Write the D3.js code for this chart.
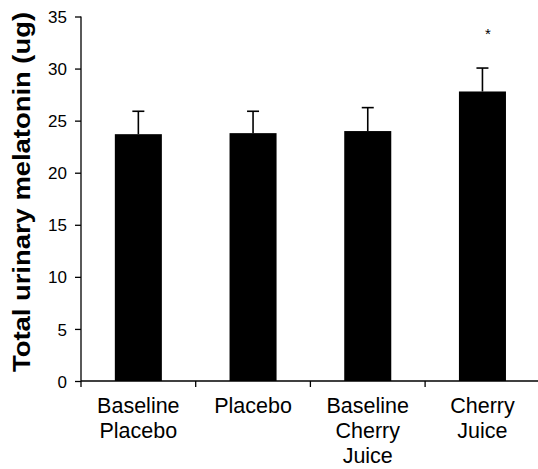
<!DOCTYPE html>
<html>
<head>
<meta charset="utf-8">
<script src="https://cdn.jsdelivr.net/npm/d3@7/dist/d3.min.js"></script>
<style>
  html, body { margin: 0; padding: 0; background: #fff; }
  svg { display: block; }
  text { font-family: "Liberation Sans", Arial, sans-serif; fill: #000; }
</style>
</head>
<body>
<div id="chart"></div>
<script>
const categories = [["Baseline", "Placebo"], ["Placebo"], ["Baseline", "Cherry", "Juice"], ["Cherry", "Juice"]];
const means = [23.7, 23.8, 24.0, 27.8];
const errUpper = [25.9, 25.9, 26.25, 30.05];
const significant = [false, false, false, true];
const yTicks = [0, 5, 10, 15, 20, 25, 30, 35];
const yTitle = "Total urinary melatonin (ug)";

const W = 538, H = 469;
const svg = d3.select("#chart").append("svg").attr("width", W).attr("height", H);

const keys = categories.map(c => c.join(" "));
const x = d3.scaleBand().domain(keys).range([81, 539.8]).padding(0);
const y = d3.scaleLinear().domain([0, 35]).range([381, 16.5]);
const barW = x.bandwidth() * 0.41;

// bars
svg.append("g").selectAll("rect").data(keys).join("rect")
  .attr("x", d => x(d) + x.bandwidth() / 2 - barW / 2)
  .attr("y", (d, i) => y(means[i]))
  .attr("width", barW)
  .attr("height", (d, i) => y(0) - y(means[i]))
  .attr("fill", "#000");

// error bars (upper only)
const eg = svg.append("g").attr("stroke", "#000").attr("stroke-width", 1.6);
keys.forEach((k, i) => {
  const cx = x(k) + x.bandwidth() / 2;
  eg.append("line").attr("x1", cx).attr("x2", cx).attr("y1", y(means[i])).attr("y2", y(errUpper[i]));
  eg.append("line").attr("x1", cx - 6).attr("x2", cx + 6).attr("y1", y(errUpper[i])).attr("y2", y(errUpper[i]));
  if (significant[i]) {
    svg.append("text").attr("x", cx + 5.5).attr("y", y(errUpper[i]) - 29)
      .attr("text-anchor", "middle").style("font-size", "15px").text("*");
  }
});

// y axis
const yAxis = svg.append("g").attr("transform", "translate(81,0)")
  .call(d3.axisLeft(y).tickValues(yTicks).tickSize(6).tickPadding(8).tickFormat(d3.format("d")));
yAxis.select(".domain").attr("stroke", "#000").attr("stroke-width", 1.3).attr("d", `M0,${y(35)}V${y(0)}`);
yAxis.selectAll(".tick line").attr("stroke", "#000").attr("stroke-width", 1.3);
yAxis.selectAll(".tick text").style("font-size", "17px").style("font-family", "'Liberation Sans', Arial, sans-serif").attr("dy", "0.36em");

// x axis
const xAxis = svg.append("g").attr("transform", `translate(0,${y(0)})`);
xAxis.append("line").attr("x1", 81).attr("x2", W).attr("y1", 0).attr("y2", 0)
  .attr("stroke", "#000").attr("stroke-width", 1.3);
keys.forEach(k => {
  const bx = x(k);
  xAxis.append("line").attr("x1", bx).attr("x2", bx).attr("y1", 0).attr("y2", 6)
    .attr("stroke", "#000").attr("stroke-width", 1.3);
});

// category labels
categories.forEach((lines, i) => {
  const cx = x(keys[i]) + x.bandwidth() / 2;
  const t = svg.append("text").attr("text-anchor", "middle").style("font-size", "21.5px");
  lines.forEach((ln, j) => {
    t.append("tspan").attr("x", cx).attr("y", 413 + j * 25).text(ln);
  });
});

// y title
svg.append("text")
  .attr("transform", "translate(30,192) rotate(-90)")
  .attr("text-anchor", "middle")
  .style("font-size", "24px").style("font-weight", "bold")
  .attr("textLength", 360).attr("lengthAdjust", "spacingAndGlyphs")
  .text(yTitle);
</script>
</body>
</html>
